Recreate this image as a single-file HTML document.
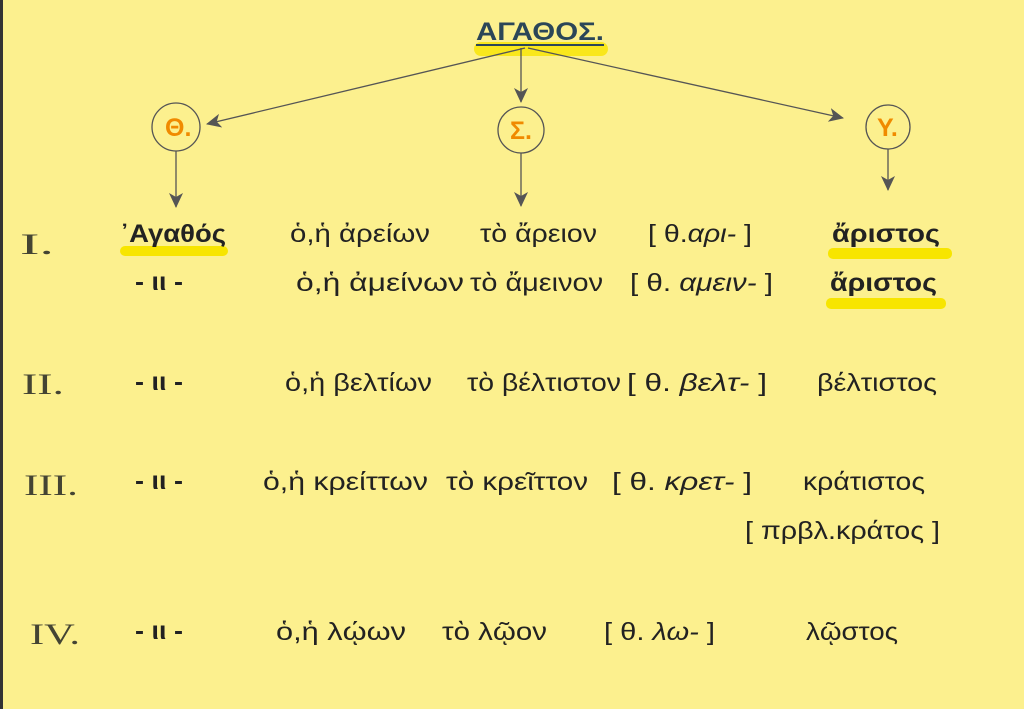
<!DOCTYPE html>
<html><head><meta charset="utf-8"><style>
html,body{margin:0;padding:0;background:#fcf08e;}
svg{display:block}
text{font-family:"Liberation Sans","DejaVu Sans",sans-serif;fill:#222;font-size:25px}
.b{font-weight:bold}
.r{font-family:"Liberation Serif",serif;fill:#443;font-size:30px}
</style></head><body>
<svg width="1024" height="709" viewBox="0 0 1024 709" xmlns="http://www.w3.org/2000/svg">
<defs>
<marker id="s" markerWidth="16" markerHeight="16" refX="14" refY="8" orient="auto" markerUnits="userSpaceOnUse"><path d="M0,1 L15,8 L0,15 L4,8 Z" fill="#555"/></marker></defs>
<rect x="0" y="0" width="1024" height="709" fill="#fcf08e"/>
<rect x="0" y="0" width="3" height="709" fill="#333"/>
<!-- title -->
<rect x="474" y="42" width="134" height="14" rx="7" fill="#f7e500" opacity="0.8"/>
<text x="476" y="40" class="b" style="fill:#2b4658" textLength="128" lengthAdjust="spacingAndGlyphs" font-size="26">ΑΓΑΘΟΣ.</text>
<line x1="476" y1="45" x2="604" y2="45" stroke="#2b4658" stroke-width="2"/>
<!-- arrows -->
<g stroke="#555" stroke-width="1.3" fill="none">
<line x1="525" y1="48" x2="207" y2="124" marker-end="url(#s)"/>
<line x1="521" y1="48" x2="521" y2="102" marker-end="url(#s)"/>
<line x1="528" y1="48" x2="843" y2="118" marker-end="url(#s)"/>
<circle cx="176" cy="127" r="24"/><circle cx="521" cy="130" r="23"/><circle cx="888" cy="127" r="22"/>
<line x1="176" y1="151" x2="176" y2="207" marker-end="url(#s)"/>
<line x1="521" y1="153" x2="521" y2="206" marker-end="url(#s)"/>
<line x1="888" y1="149" x2="888" y2="190" marker-end="url(#s)"/>
</g>
<text x="165" y="136" class="b" style="fill:#f08a00" font-size="20">Θ.</text>
<text x="510" y="139" class="b" style="fill:#f08a00" font-size="20">Σ.</text>
<text x="877" y="136" class="b" style="fill:#f08a00" font-size="20">Υ.</text>
<!-- highlights -->
<rect x="120" y="246" width="108" height="10" rx="5" fill="#f7e500"/>
<rect x="828" y="248" width="124" height="11" rx="5" fill="#f7e500"/>
<rect x="826" y="298" width="120" height="11" rx="5" fill="#f7e500"/>
<!-- roman -->
<text x="20" y="254" class="r" textLength="34" lengthAdjust="spacingAndGlyphs">I.</text>
<text x="22" y="394" class="r" textLength="42" lengthAdjust="spacingAndGlyphs">II.</text>
<text x="24" y="495" class="r" textLength="54" lengthAdjust="spacingAndGlyphs">III.</text>
<text x="30" y="644" class="r" textLength="50" lengthAdjust="spacingAndGlyphs">IV.</text>
<g>
<!-- row I -->
<text x="120" y="242" class="b" textLength="106" lengthAdjust="spacingAndGlyphs">᾿Αγαθός</text>
<text x="290" y="242" textLength="140" lengthAdjust="spacingAndGlyphs">ὁ,ἡ ἀρείων</text>
<text x="480" y="242" textLength="117" lengthAdjust="spacingAndGlyphs">τὸ ἄρειον</text>
<text x="648" y="242" textLength="104" lengthAdjust="spacingAndGlyphs">[ θ.<tspan font-style="italic">αρι-</tspan> ]</text>
<text x="832" y="242" class="b" textLength="108" lengthAdjust="spacingAndGlyphs">ἄριστος</text>
<!-- row I b -->
<text x="135" y="290" class="b" font-size="18" textLength="48" lengthAdjust="spacingAndGlyphs">- ιι -</text>
<text x="296" y="291" textLength="168" lengthAdjust="spacingAndGlyphs">ὁ,ἡ ἀμείνων</text>
<text x="470" y="291" textLength="133" lengthAdjust="spacingAndGlyphs">τὸ ἄμεινον</text>
<text x="630" y="291" textLength="143" lengthAdjust="spacingAndGlyphs">[ θ. <tspan font-style="italic">αμειν-</tspan> ]</text>
<text x="830" y="291" class="b" textLength="107" lengthAdjust="spacingAndGlyphs">ἄριστος</text>
<!-- II -->
<text x="135" y="390" class="b" font-size="18" textLength="48" lengthAdjust="spacingAndGlyphs">- ιι -</text>
<text x="285" y="391" textLength="147" lengthAdjust="spacingAndGlyphs">ὁ,ἡ βελτίων</text>
<text x="467" y="391" textLength="154" lengthAdjust="spacingAndGlyphs">τὸ βέλτιστον</text>
<text x="627" y="391" textLength="140" lengthAdjust="spacingAndGlyphs">[ θ. <tspan font-style="italic">βελτ-</tspan> ]</text>
<text x="817" y="391" textLength="120" lengthAdjust="spacingAndGlyphs">βέλτιστος</text>
<!-- III -->
<text x="135" y="489" class="b" font-size="18" textLength="48" lengthAdjust="spacingAndGlyphs">- ιι -</text>
<text x="263" y="490" textLength="165" lengthAdjust="spacingAndGlyphs">ὁ,ἡ κρείττων</text>
<text x="446" y="490" textLength="142" lengthAdjust="spacingAndGlyphs">τὸ κρεῖττον</text>
<text x="612" y="490" textLength="140" lengthAdjust="spacingAndGlyphs">[ θ. <tspan font-style="italic">κρετ-</tspan> ]</text>
<text x="803" y="490" textLength="122" lengthAdjust="spacingAndGlyphs">κράτιστος</text>
<text x="745" y="539" textLength="195" lengthAdjust="spacingAndGlyphs">[ πρβλ.κράτος ]</text>
<!-- IV -->
<text x="135" y="639" class="b" font-size="18" textLength="48" lengthAdjust="spacingAndGlyphs">- ιι -</text>
<text x="276" y="640" textLength="130" lengthAdjust="spacingAndGlyphs">ὁ,ἡ λῴων</text>
<text x="442" y="640" textLength="105" lengthAdjust="spacingAndGlyphs">τὸ λῷον</text>
<text x="604" y="640" textLength="111" lengthAdjust="spacingAndGlyphs">[ θ. <tspan font-style="italic">λω-</tspan> ]</text>
<text x="806" y="640" textLength="92" lengthAdjust="spacingAndGlyphs">λῷστος</text>
</g>
</svg>
</body></html>
